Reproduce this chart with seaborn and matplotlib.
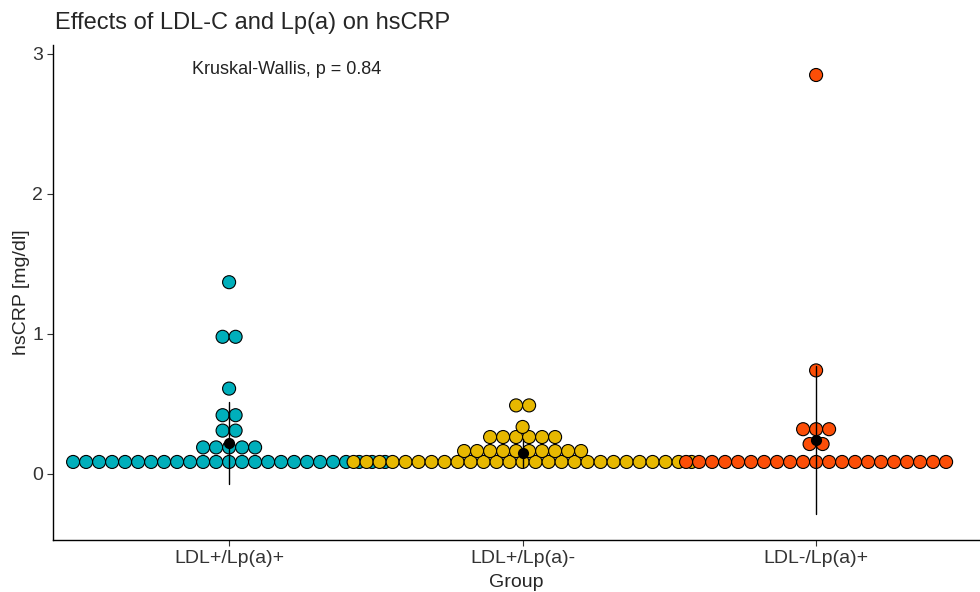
import numpy as np
import pandas as pd
import matplotlib
matplotlib.use("Agg")
import matplotlib.pyplot as plt
import seaborn as sns

# Group names and dot colours
groups = ["LDL+/Lp(a)+", "LDL+/Lp(a)-", "LDL-/Lp(a)+"]
colors = ["#00AFBB", "#E7B800", "#FC4E07"]

# hsCRP values (bin value, number of dots in the bin)
g1_values = [0.086, 0.19, 0.31, 0.42, 0.61, 0.98, 1.37]
g1_counts = [25, 5, 2, 2, 1, 2, 1]
g2_values = [0.086, 0.164, 0.264, 0.336, 0.49]
g2_counts = [27, 10, 6, 1, 2]
g3_values = [0.086, 0.214, 0.32, 0.74, 2.85]
g3_counts = [21, 2, 3, 1, 1]

pval_label = "Kruskal-Wallis, p = 0.84"

# centred dot stacking, like geom_dotplot(binaxis = "y", stackdir = "center")
dot_step = 13 / 293.5  # one dot diameter in x units

rows = []
for gi, (vals, cnts) in enumerate([(g1_values, g1_counts),
                                   (g2_values, g2_counts),
                                   (g3_values, g3_counts)]):
    for v, n in zip(vals, cnts):
        offs = (np.arange(n) - (n - 1) / 2) * dot_step
        for o in offs:
            rows.append({"Group": groups[gi], "gidx": gi, "xpos": gi + o, "hsCRP": v})
df = pd.DataFrame(rows)

sns.set_style("white")
plt.rcParams["font.family"] = ["Liberation Sans", "DejaVu Sans"]

fig = plt.figure(figsize=(9.8, 5.92), dpi=100)
ax = fig.add_axes([53 / 980, 52 / 592, 927 / 980, 495 / 592])

sns.scatterplot(data=df, x="xpos", y="hsCRP", hue="Group", palette=colors,
                edgecolor="black", linewidth=0.8, s=88, legend=False, ax=ax,
                zorder=2)

# mean +/- sd
sns.pointplot(data=df, x="gidx", y="hsCRP", native_scale=True, errorbar="sd",
              color="black", linestyle="none", marker="o", markersize=6,
              err_kws={"linewidth": 1}, ax=ax, zorder=3)

ax.set_xlim(-0.6, -0.6 + 927 / 293.5)
ax.set_ylim((474 - 540) / 140, (474 - 45) / 140)
ax.set_xticks([0, 1, 2])
ax.set_xticklabels(groups)
ax.set_yticks([0, 1, 2, 3])
ax.set_xlabel("Group", fontsize=14, labelpad=5)
ax.set_ylabel("hsCRP [mg/dl]", fontsize=14, labelpad=2)

for side in ["top", "right"]:
    ax.spines[side].set_visible(False)
for side in ["left", "bottom"]:
    ax.spines[side].set_color("black")
    ax.spines[side].set_linewidth(1)
ax.tick_params(axis="both", direction="out", length=4, width=0.8,
               color="#333333", labelcolor="#333333", labelsize=14, pad=3,
               left=True, bottom=True)

ax.text((288 - 230) / 293.5, (474 - 70) / 140, pval_label,
        ha="center", va="center", fontsize=13, color="#222222")

fig.text(55 / 980, 1 - 23 / 592, "Effects of LDL-C and Lp(a) on hsCRP",
         ha="left", va="center", fontsize=17)

fig.savefig("out.png", dpi=100)
